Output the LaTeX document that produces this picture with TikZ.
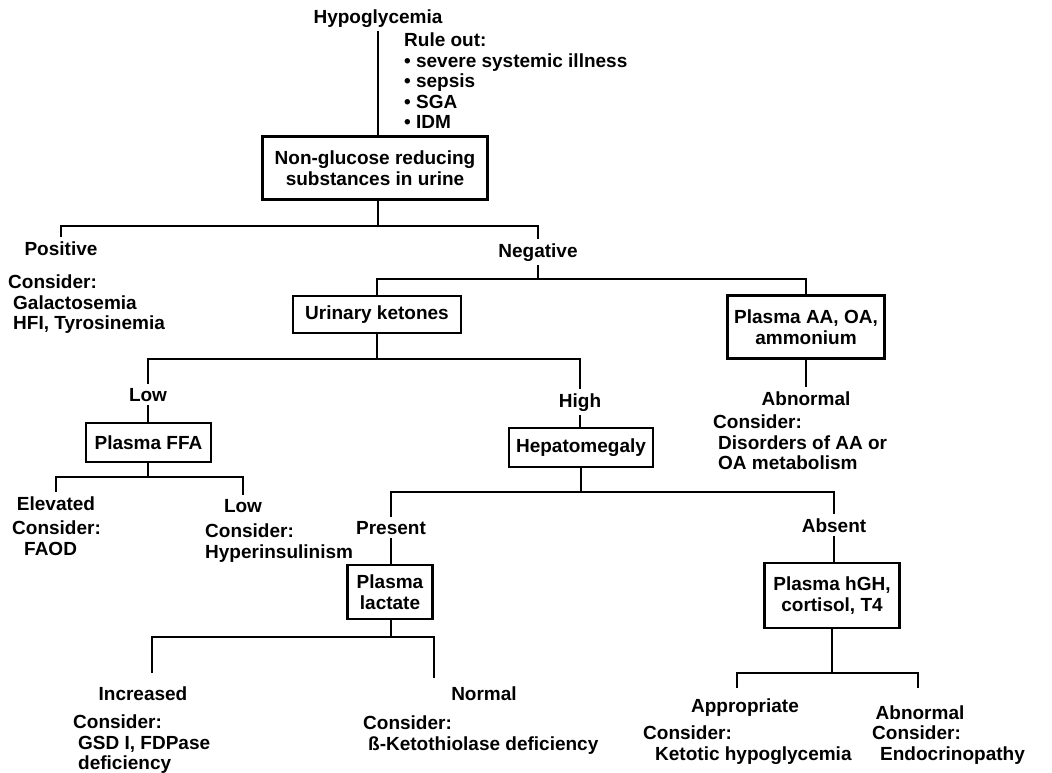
\documentclass[tikz,border=0pt]{standalone}
\usepackage{fontspec}
\setmainfont{Liberation Sans}
\usepackage{tikz}
\newcommand\cind{\hspace*{5pt}}

\begin{document}
\begin{tikzpicture}[x=1pt,y=-1pt,
    every node/.style={font=\fontsize{19}{20.5}\selectfont\bfseries},
    lab/.style={anchor=base,inner sep=4pt},
    txt/.style={anchor=north west,inner sep=0pt,align=left},
    box/.style={draw,line width=2.2pt,align=center,inner sep=2pt},
    ln/.style={line width=1.8pt}]
\useasboundingbox (0,0) rectangle (1052,772);

\node[lab] (hypo) at (378,23) {Hypoglycemia};
\node[txt] (rule) at (404,33) {Rule out:\\• severe systemic illness\\• sepsis\\• SGA\\• IDM};
\node[box,minimum width=225,minimum height=63] (urine) at (375,168) {Non-glucose reducing\\substances in urine};

\node[lab] (pos) at (61,255) {Positive};
\node[lab] (neg) at (538,257) {Negative};
\node[txt] (cpos) at (8,275) {Consider:\\\cind Galactosemia\\\cind HFI, Tyrosinemia};

\node[box,minimum width=168,minimum height=37] (keto) at (377,314.5) {Urinary ketones};
\node[box,minimum width=157,minimum height=63] (aaoa) at (806,327) {Plasma AA, OA,\\ammonium};

\node[lab] (lowk) at (148,401) {Low};
\node[lab] (high) at (580,407) {High};
\node[lab] (abn1) at (806,405) {Abnormal};
\node[txt] (cabn1) at (713,415) {Consider:\\\cind Disorders of AA or\\\cind OA metabolism};

\node[box,minimum width=125,minimum height=39] (ffa) at (148.5,442.5) {Plasma FFA};
\node[box,minimum width=144,minimum height=39] (hepa) at (581,447.5) {Hepatomegaly};

\node[lab] (elev) at (56,510) {Elevated};
\node[lab] (lowf) at (243,512) {Low};
\node[txt] (celev) at (12,521) {Consider:\\\hspace*{12pt}FAOD};
\node[txt] (clowf) at (205,524) {Consider:\\Hyperinsulinism};

\node[lab] (pres) at (391,534) {Present};
\node[lab] (abs) at (834,532) {Absent};
\node[box,minimum width=85,minimum height=54] (lact) at (390,592) {Plasma\\lactate};
\node[box,minimum width=135,minimum height=65] (hgh) at (832,595.5) {Plasma hGH,\\cortisol, T4};

\node[lab] (incr) at (143,700) {Increased};
\node[lab] (norm) at (484,700) {Normal};
\node[txt] (cincr) at (73,715) {Consider:\\\cind GSD I, FDPase\\\cind deficiency};
\node[txt] (cnorm) at (363,716) {Consider:\\\cind ß-Ketothiolase deficiency};

\node[lab] (appr) at (745,712) {Appropriate};
\node[lab] (abn2) at (920,719) {Abnormal};
\node[txt] (cappr) at (643,726) {Consider:\\\hspace*{12pt}Ketotic hypoglycemia};
\node[txt] (cabn2) at (872,726) {Consider:\\\hspace*{8pt}Endocrinopathy};

\coordinate (b1) at (378,226);
\coordinate (b2) at (538,279);
\coordinate (b3) at (377,359);
\coordinate (b4) at (148,477);
\coordinate (b5) at (581,492);
\coordinate (b6) at (391,637);
\coordinate (b7) at (832,673);
\coordinate (dinc) at (152,673);
\coordinate (dnor) at (434,678);
\coordinate (dapp) at (737,688);
\coordinate (dab2) at (918,688);

\draw[ln] (hypo.south) -- (hypo.south |- urine.north);
\draw[ln] (urine.south -| b1) -- (b1);
\draw[ln] (pos.north) |- (b1) -| (neg.north);
\draw[ln] (neg.south) -- (b2);
\draw[ln] (keto.north) |- (b2) -| (aaoa.north);
\draw[ln] (keto.south) -- (b3);
\draw[ln] (lowk.north) |- (b3) -| (high.north);
\draw[ln] (aaoa.south) -- (aaoa.south |- abn1.north);
\draw[ln] (lowk.south) -- (lowk.south |- ffa.north);
\draw[ln] (high.south) -- (high.south |- hepa.north);
\draw[ln] (ffa.south -| b4) -- (b4);
\draw[ln] (elev.north) |- (b4) -| (lowf.north);
\draw[ln] (hepa.south) -- (b5);
\draw[ln] (pres.north) |- (b5) -| (abs.north);
\draw[ln] (pres.south) -- (pres.south |- lact.north);
\draw[ln] (abs.south) -- (abs.south |- hgh.north);
\draw[ln] (lact.south -| b6) -- (b6);
\draw[ln] (dinc) |- (b6) -| (dnor);
\draw[ln] (hgh.south) -- (b7);
\draw[ln] (dapp) |- (b7) -| (dab2);
\end{tikzpicture}
\end{document}
